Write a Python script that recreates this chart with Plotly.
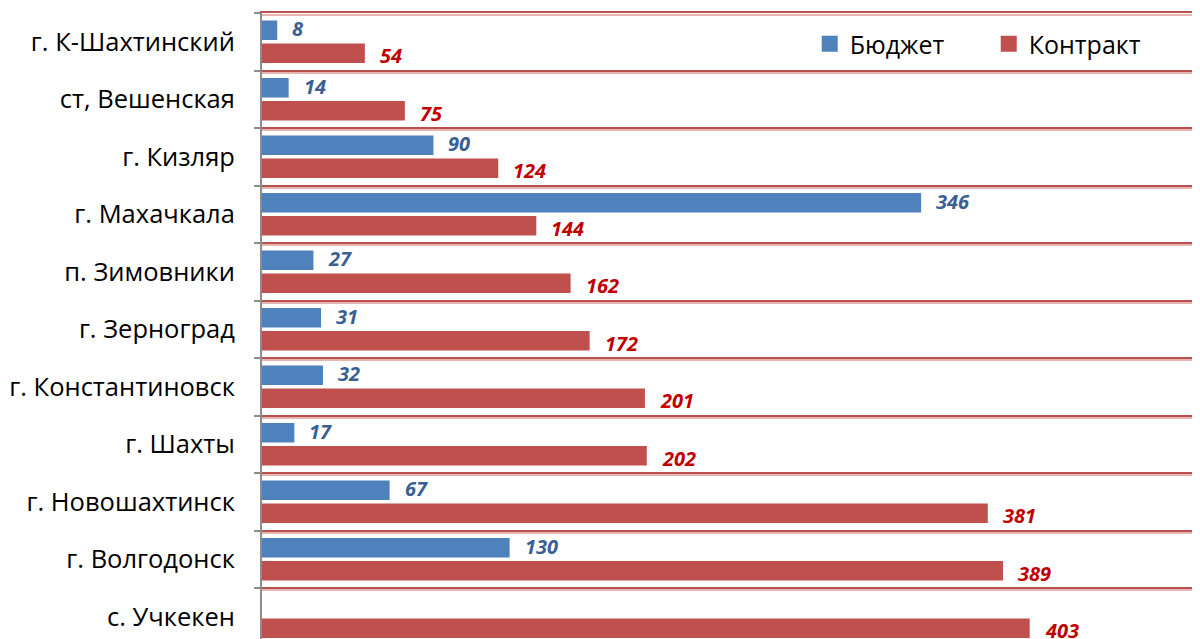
import plotly.graph_objects as go

categories = ["г. К-Шахтинский", "ст, Вешенская", "г. Кизляр", "г. Махачкала",
              "п. Зимовники", "г. Зерноград", "г. Константиновск", "г. Шахты",
              "г. Новошахтинск", "г. Волгодонск", "с. Учкекен"]
budget = [8, 14, 90, 346, 27, 31, 32, 17, 67, 130, None]
contract = [54, 75, 124, 144, 162, 172, 201, 202, 381, 389, 403]
series_names = ["Бюджет", "Контракт"]

BLUE = "#4F81BD"
RED = "#C0504D"
BLUE_TXT = "#3A5F95"
RED_TXT = "#C00000"
GRID = "#B8504C"
GRID_SHADOW = "#E8B4B2"
FONT = "Open Sans"

fig = go.Figure()
# invisible helper trace on the shadow-grid axis
fig.add_trace(go.Scatter(x=[None] * len(categories), y=categories, yaxis="y2",
                         mode="markers", showlegend=False, hoverinfo="skip"))
fig.add_trace(go.Bar(name=series_names[0], y=categories, x=budget, orientation="h",
                     marker=dict(color=BLUE, line=dict(width=0)), showlegend=False))
fig.add_trace(go.Bar(name=series_names[1], y=categories, x=contract, orientation="h",
                     marker=dict(color=RED, line=dict(width=0)), showlegend=False))
# legend entries with larger square markers
for nm, col in zip(series_names, [BLUE, RED]):
    fig.add_trace(go.Scatter(name=nm, x=[None], y=[None], mode="markers",
                             marker=dict(symbol="square", size=16, color=col),
                             showlegend=True))

for c, v in zip(categories, budget):
    if v is None:
        continue
    fig.add_annotation(x=v, y=c, xref="x", yref="y", text=f"<b><i>{v}</i></b>",
                       showarrow=False, xanchor="left", yanchor="middle",
                       xshift=13, yshift=13,
                       font=dict(family=FONT, size=20, color=BLUE_TXT))
for c, v in zip(categories, contract):
    fig.add_annotation(x=v, y=c, xref="x", yref="y", text=f"<b><i>{v}</i></b>",
                       showarrow=False, xanchor="left", yanchor="middle",
                       xshift=13, yshift=-14,
                       font=dict(family=FONT, size=20, color=RED_TXT))

step = 2 / 57.5  # 2 px in category units
fig.update_layout(
    width=1200, height=639,
    margin=dict(l=254, r=0, t=5, b=0, autoexpand=False),
    paper_bgcolor="white", plot_bgcolor="white",
    barmode="group", bargap=0.2, bargroupgap=0.15,
    font=dict(family=FONT, size=25.5, color="black"),
    showlegend=True,
    legend=dict(orientation="h", x=0.579, y=0.951, xanchor="left", yanchor="middle",
                font=dict(family=FONT, size=25, color="black"),
                bgcolor="rgba(0,0,0,0)", traceorder="normal", itemwidth=30,
                entrywidth=134, entrywidthmode="pixels"),
    yaxis2=dict(type="category", categoryorder="array", categoryarray=categories,
                overlaying="y", range=[10.526 - step, -0.5 - step],
                tickson="boundaries", showgrid=True, gridcolor=GRID_SHADOW, gridwidth=1.5,
                showticklabels=False, ticks="", showline=False, zeroline=False,
                automargin=False, layer="below traces"),
)
fig.update_xaxes(range=[0, 496.6], showgrid=False, zeroline=False, automargin=False,
                 showticklabels=False, ticks="", side="top",
                 showline=True, linecolor=GRID, linewidth=2)
fig.update_yaxes(selector=dict(anchor="x"), overwrite=False)
fig.layout.yaxis.update(type="category", categoryorder="array", categoryarray=categories,
                        range=[10.526, -0.5], tickson="boundaries", automargin=False,
                        showgrid=True, gridcolor=GRID, gridwidth=2,
                        showline=True, linecolor="#8C8C8C", linewidth=2,
                        ticks="outside", ticklen=6, tickcolor="#8C8C8C", tickwidth=2,
                        ticklabelstandoff=20,
                        tickfont=dict(family=FONT, size=25.5, color="black"))

fig.write_html("out.html")
